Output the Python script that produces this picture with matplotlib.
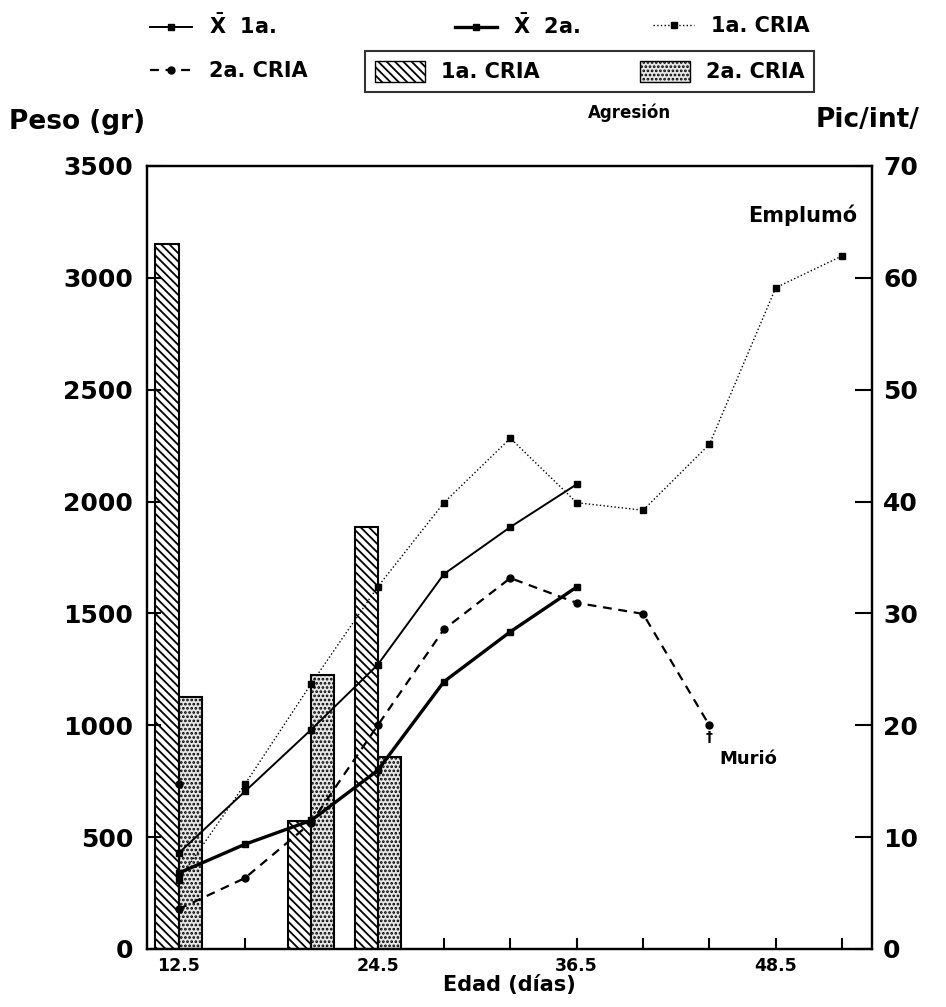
import matplotlib
matplotlib.use("Agg")
from matplotlib import pyplot as plt
from matplotlib.patches import Patch
from matplotlib.lines import Line2D

# Datos (peso en gramos, agresion en picotazos/intervalo)
edad = [12.5, 16.5, 20.5, 24.5, 28.5, 32.5, 36.5, 40.5, 44.5, 48.5, 52.5]

media_1a = [428, 704, 981, 1270, 1676, 1886, 2077]
media_2a = [339, 468, 575, 798, 1195, 1418, 1618]
cria_1a = [308, 736, 1186, 1618, 1995, 2283, 1995, 1961, 2256, 2956, 3098]
cria_2a = [178, 317, 565, 999, 1429, 1658, 1547, 1498, 999]
punto_aislado = [736]

edad_agresion = [12.5, 20.5, 24.5]
agresion_1a = [63, 11.4, 37.7]
agresion_2a = [22.5, 24.5, 17.2]

ticks_peso = [0, 500, 1000, 1500, 2000, 2500, 3000, 3500]
ticks_pic = [0, 10, 20, 30, 40, 50, 60, 70]
ticks_edad = [12.5, 24.5, 36.5, 48.5]

plt.rcParams['font.family'] = ['DejaVu Sans']
plt.rcParams['font.weight'] = 'bold'
plt.rcParams['hatch.linewidth'] = 1.3

fig = plt.figure(figsize=(9.46, 10.07), dpi=100)
ax = fig.add_axes([0.1554, 0.0576, 0.7664, 0.7776])
ax2 = ax.twinx()

# barras de agresion (eje derecho)
ancho = 1.39
x1 = [e - ancho / 2 for e in edad_agresion]
x2 = [e + ancho / 2 for e in edad_agresion]
relleno_1a = dict(facecolor='white', edgecolor='black', hatch='\\\\\\\\')
relleno_2a = dict(facecolor='#e6e6e6', edgecolor='black', hatch='....')
ax2.bar(x1, agresion_1a, width=ancho, linewidth=1.5, **relleno_1a)
ax2.bar(x2, agresion_2a, width=ancho, linewidth=1.5, **relleno_2a)

# lineas de peso (eje izquierdo), encima de las barras
ax.set_zorder(ax2.get_zorder() + 1)
ax.patch.set_visible(False)

estilo = {
    'media_1a': dict(color='black', lw=1.4, marker='s', ms=4),
    'media_2a': dict(color='black', lw=2.4, marker='s', ms=4),
    'cria_1a': dict(color='black', lw=1.0, ls=':', marker='s', ms=4.5),
    'cria_2a': dict(color='black', lw=1.6, ls=(0, (4, 3)), marker='o', ms=5),
}
ax.plot(edad[:len(media_1a)], media_1a, **estilo['media_1a'])
ax.plot(edad[:len(media_2a)], media_2a, **estilo['media_2a'])
ax.plot(edad[:len(cria_1a)], cria_1a, **estilo['cria_1a'])
ax.plot(edad[:len(cria_2a)], cria_2a, **estilo['cria_2a'])
ax.plot(edad[:1], punto_aislado, ls='none', color='black', marker='o', ms=5)

ax.text(edad[len(cria_2a) - 1], cria_2a[-1] - 20, '†', ha='center', va='top',
        fontsize=10, fontweight='bold')
ax.text(45.1, 850, 'Murió', ha='left', va='center', fontsize=13, fontweight='bold')
ax.text(53.4, 3280, 'Emplumó', ha='right', va='center', fontsize=15, fontweight='bold')

ax.set_xlim(10.6, 54.3)
ax.set_ylim(0, 3500)
ax2.set_ylim(0, 70)

ax.set_yticks(ticks_peso)
ax2.set_yticks(ticks_pic)
ax.set_xticks(ticks_edad)
ax.set_xticklabels([str(t) for t in ticks_edad], fontsize=12.5, fontweight='bold')
ax.set_xticks(edad, minor=True)
ax.tick_params(axis='y', direction='in', length=10, width=1.5, labelsize=18, pad=10)
ax2.tick_params(axis='y', direction='in', length=12, width=1.5, labelsize=18, pad=8)
ax.tick_params(axis='x', which='both', direction='in', length=8, width=1.5, pad=6)
for lab in ax.get_yticklabels() + ax2.get_yticklabels():
    lab.set_fontweight('bold')
for sp in list(ax.spines.values()) + list(ax2.spines.values()):
    sp.set_linewidth(1.6)

ax.set_xlabel('Edad (días)', fontsize=15, fontweight='bold', labelpad=0)
fig.text(0.01, 0.879, 'Peso (gr)', fontsize=19, fontweight='bold', va='center')
fig.text(0.862, 0.881, 'Pic/int/', fontsize=19, fontweight='bold', va='center')
fig.text(0.665, 0.888, 'Agresión', fontsize=12, fontweight='bold', ha='center', va='center')

# leyenda de lineas, una entrada por posicion
entradas = [
    ('media_1a', r'$\bar{\mathbf{X}}$  1a.', 0.159, 0.974),
    ('media_2a', r'$\bar{\mathbf{X}}$  2a.', 0.481, 0.974),
    ('cria_1a', '1a. CRIA', 0.690, 0.974),
    ('cria_2a', '2a. CRIA', 0.159, 0.929),
]
for clave, texto, fx, fy in entradas:
    h = Line2D([], [], **estilo[clave])
    fig.legend([h], [texto], loc='center left', bbox_to_anchor=(fx, fy),
               frameon=False, handlelength=2.0, handletextpad=0.8,
               borderpad=0, borderaxespad=0, prop={'weight': 'bold', 'size': 15})

# leyenda de barras (recuadro)
h_barras = [Patch(**relleno_1a), Patch(**relleno_2a)]
leg2 = fig.legend(h_barras, ['1a. CRIA', '2a. CRIA'], ncol=2, loc='center left',
                  bbox_to_anchor=(0.386, 0.929), frameon=True, fancybox=False,
                  handlelength=2.4, handleheight=1.2, columnspacing=4.8,
                  handletextpad=0.8, borderaxespad=0,
                  prop={'weight': 'bold', 'size': 15}, borderpad=0.45)
leg2.get_frame().set_edgecolor('black')
leg2.get_frame().set_linewidth(1.5)

fig.savefig('out.png', dpi=100)
